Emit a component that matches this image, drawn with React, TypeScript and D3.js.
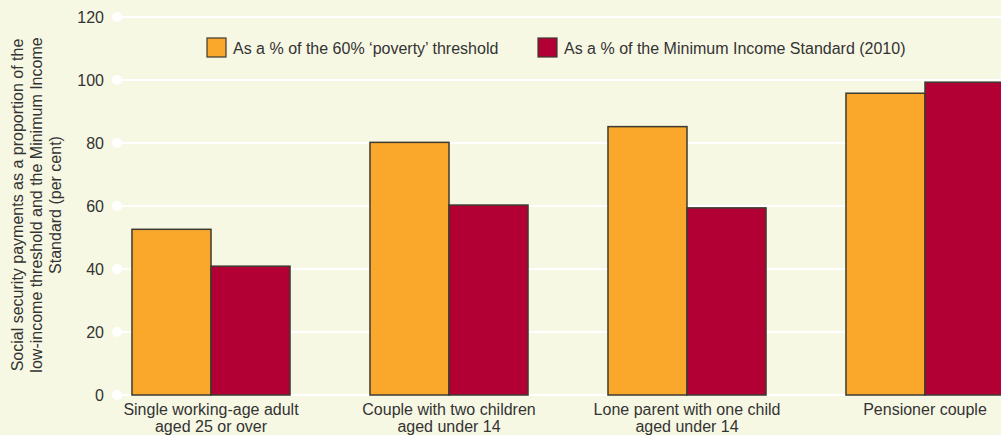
import React from "react";
import * as d3 from "d3";

const categories = [
  ["Single working-age adult", "aged 25 or over"],
  ["Couple with two children", "aged under 14"],
  ["Lone parent with one child", "aged under 14"],
  ["Pensioner couple"],
];
const seriesNames = [
  "As a % of the 60% \u2018poverty\u2019 threshold",
  "As a % of the Minimum Income Standard (2010)",
];
const povertyValues = [52.6, 80.2, 85.2, 95.8];
const misValues = [40.9, 60.3, 59.4, 99.3];
const yTicks = [0, 20, 40, 60, 80, 100, 120];
const yLabelLines = [
  "Social security payments as a proportion of the",
  "low-income threshold and the Minimum Income",
  "Standard (per cent)",
];

const W = 1001;
const H = 435;
const colors = ["#f9a82c", "#b20035"];
const font = "'Liberation Sans', Arial, Helvetica, sans-serif";
const FS = 16;

export default function App() {
  const y = d3.scaleLinear().domain([0, 120]).range([395, 17]);
  const x0 = d3
    .scaleBand<number>()
    .domain(categories.map((_, i) => i))
    .range([92, 1044])
    .paddingInner(0.336)
    .paddingOuter(0.168);
  const x1 = d3
    .scaleBand<number>()
    .domain([0, 1])
    .range([0, x0.bandwidth()]);
  const series = [povertyValues, misValues];

  return (
    <svg
      width={W}
      height={H}
      style={{ position: "absolute", left: 0, top: 0, display: "block" }}
      fontFamily={font}
    >
      <rect x={0} y={0} width={W} height={H} fill="#f7f8e4" />
      {yTicks.map((t) => (
        <g key={t}>
          <line x1={117} x2={W} y1={y(t)} y2={y(t)} stroke="#ffffff" strokeWidth={2} />
          <circle cx={117} cy={y(t)} r={5} fill="#ffffff" />
          <text
            x={104}
            y={y(t)}
            dy="0.35em"
            textAnchor="end"
            fontSize={FS}
            fill="#333"
          >
            {t}
          </text>
        </g>
      ))}
      {series.map((vals, si) =>
        vals.map((v, ci) => (
          <rect
            key={`${si}-${ci}`}
            x={(x0(ci) ?? 0) + (x1(si) ?? 0)}
            y={y(v)}
            width={x1.bandwidth()}
            height={y(0) - y(v)}
            fill={colors[si]}
            stroke="#3d3a30"
            strokeWidth={1.5}
          />
        ))
      )}
      {categories.map((lines, ci) => (
        <text
          key={ci}
          x={(x0(ci) ?? 0) + x0.bandwidth() / 2}
          y={415}
          textAnchor="middle"
          fontSize={FS}
          fill="#333"
        >
          {lines.map((l, li) => (
            <tspan key={li} x={(x0(ci) ?? 0) + x0.bandwidth() / 2} dy={li === 0 ? 0 : 17}>
              {l}
            </tspan>
          ))}
        </text>
      ))}
      {/* legend */}
      {seriesNames.map((name, i) => {
        const lx = i === 0 ? 207 : 538;
        return (
          <g key={i}>
            <rect
              x={lx}
              y={38}
              width={19}
              height={19}
              fill={colors[i]}
              stroke="#3d3a30"
              strokeWidth={1.2}
            />
            <text x={lx + 26} y={48} dy="0.35em" fontSize={FS} fill="#333">
              {name}
            </text>
          </g>
        );
      })}
      {/* y label */}
      <text
        transform={`translate(36, 205) rotate(-90)`}
        textAnchor="middle"
        fontSize={FS}
        fill="#333"
      >
        {yLabelLines.map((l, i) => (
          <tspan key={i} x={0} y={(i - 1) * 19} dy="0.35em">
            {l}
          </tspan>
        ))}
      </text>
    </svg>
  );
}
